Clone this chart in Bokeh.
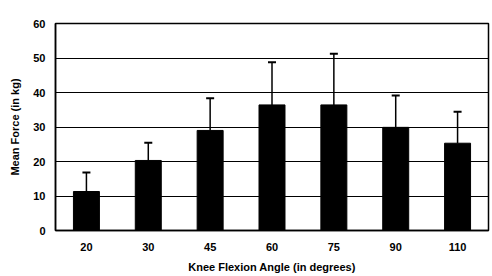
from bokeh.plotting import figure
from bokeh.models import ColumnDataSource, Whisker, TeeHead, FactorRange, FixedTicker, BoxAnnotation
from bokeh.embed import file_html
from bokeh.resources import INLINE

angles = ["20", "30", "45", "60", "75", "90", "110"]
mean_force = [11.3, 20.3, 29.0, 36.4, 36.4, 29.9, 25.3]
sd = [5.5, 5.1, 9.3, 12.4, 14.8, 9.2, 9.1]
upper = [m + s for m, s in zip(mean_force, sd)]

src = ColumnDataSource(dict(x=angles, top=mean_force, upper=upper))

p = figure(x_range=FactorRange(*angles), y_range=(0, 60),
           width=492, height=276, output_backend="svg", toolbar_location=None,
           min_border_left=55, min_border_right=4, min_border_top=23, min_border_bottom=46)
p.x_range.range_padding = 0
p.x_range.factor_padding = 0

p.vbar(x="x", top="top", width=0.42, source=src, fill_color="black", line_color="black")
w = Whisker(base="x", lower="top", upper="upper", source=src,
            line_color="black", line_width=1.5,
            upper_head=TeeHead(size=8, line_color="black", line_width=2), lower_head=None)
p.add_layout(w)

# outer chart-area frame (screen units are relative to the plot frame, y upward)
outer = BoxAnnotation(left=-44, right=600, top=221, bottom=-200,
                      left_units="screen", right_units="screen",
                      top_units="screen", bottom_units="screen",
                      fill_alpha=0, line_color="#333333", line_width=1.5,
                      level="overlay", propagate_hover=False, editable=False)
p.add_layout(outer)

p.outline_line_color = "black"
p.outline_line_width = 1.5
p.background_fill_color = "white"
p.border_fill_color = "white"

p.xgrid.grid_line_color = None
p.ygrid.grid_line_color = "black"
p.ygrid.grid_line_width = 1.2
p.yaxis.ticker = FixedTicker(ticks=[0, 10, 20, 30, 40, 50, 60])

for ax in (p.xaxis[0], p.yaxis[0]):
    ax.axis_line_color = "black"
    ax.axis_line_width = 1.5
    ax.major_tick_line_color = None
    ax.minor_tick_line_color = None
    ax.major_tick_out = 0
    ax.major_tick_in = 0
    ax.minor_tick_out = 0
    ax.minor_tick_in = 0
    ax.major_label_text_font = "Liberation Sans"
    ax.major_label_text_font_style = "bold"
    ax.major_label_text_font_size = "11px"
    ax.major_label_text_color = "black"
    ax.axis_label_text_font = "Liberation Sans"
    ax.axis_label_text_font_style = "bold"
    ax.axis_label_text_color = "black"

p.xaxis.axis_label = "Knee Flexion Angle (in degrees)"
p.xaxis.axis_label_text_font_size = "11px"
p.xaxis.major_label_standoff = 12
p.xaxis.axis_label_standoff = 7
p.yaxis.axis_label = "Mean Force (in kg)"
p.yaxis.axis_label_text_font_size = "11px"
p.yaxis.major_label_standoff = 10
p.yaxis.axis_label_standoff = 9

open("out.html", "w").write(file_html(p, INLINE))
